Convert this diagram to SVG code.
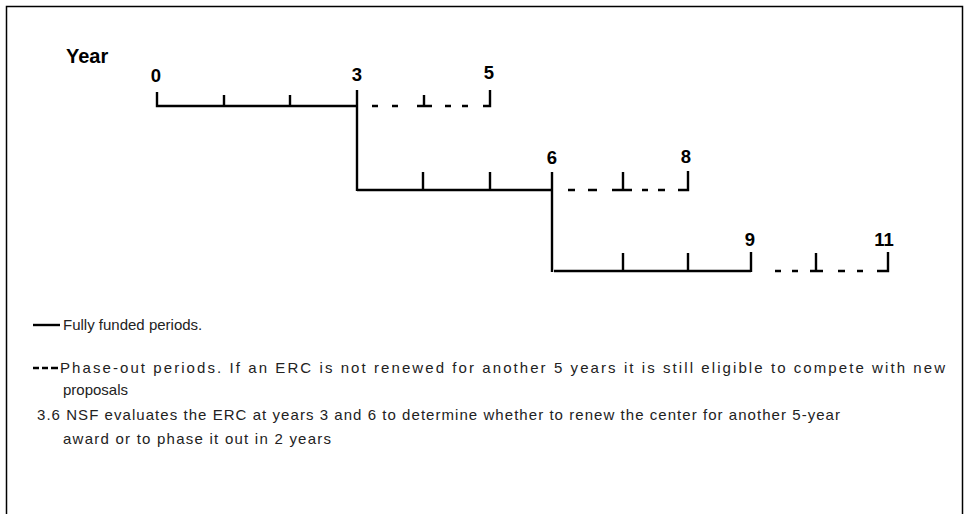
<svg xmlns="http://www.w3.org/2000/svg" width="969" height="514" viewBox="0 0 969 514">
<style>
.ln{stroke:#000;stroke-width:2.4;fill:none;stroke-linecap:butt;stroke-linejoin:miter}
.yr{font-family:"Liberation Sans",Arial,sans-serif;font-weight:bold;font-size:18.5px;fill:#000;text-anchor:middle}
.tx{font-family:"Liberation Sans",Arial,sans-serif;font-size:15px;fill:#222}
</style>
<rect x="0" y="0" width="969" height="514" fill="#fff"/>
<rect x="6.5" y="6.5" width="956" height="520" fill="none" stroke="#000" stroke-width="1.5"/>
<text x="66" y="63" font-family="'Liberation Sans',Arial,sans-serif" font-weight="bold" font-size="20">Year</text>
<g id="row1">
<path class="ln" d="M157,92 V106 H357 M224,95 V106 M290,95 V106"/>
<path class="ln" d="M372,106 H378 M392,106 H398 M417,106 H432 M424,95 V106 M445,106 H451 M462,106 H468 M483,106 H490 V90"/>
<text class="yr" x="156" y="82">0</text>
<text class="yr" x="357" y="81">3</text>
<text class="yr" x="489" y="79">5</text>
</g>
<g id="row2">
<path class="ln" d="M357,190 H552 M423,172 V190 M490,172 V190"/>
<path class="ln" d="M568,190 H575 M588,190 H597 M612,190 H632 M623,172 V190 M642,190 H648 M658,190 H665 M678,190 H688 V171"/>
<text class="yr" x="552" y="164">6</text>
<text class="yr" x="686" y="163">8</text>
</g>
<g id="row3">
<path class="ln" d="M554,271 H751 M623,253 V271 M688,253 V271 M751,252 V272"/>
<path class="ln" d="M775,271 H781 M792,271 H798 M810,271 H823 M816,253 V271 M838,271 H845 M857,271 H863 M877,271 H888 V252"/>
<text class="yr" x="750" y="246">9</text>
<text class="yr" x="884" y="246">11</text>
</g>
<g id="connectors">
<path class="ln" d="M357,90 V191"/>
<path class="ln" d="M552,172 V272"/>
</g>
<g id="legend">
<path class="ln" d="M33,325 H60"/>
<text class="tx" x="63" y="330">Fully funded periods.</text>
<path class="ln" d="M33,368 H39 M42,368 H48 M51,368 H58"/>
<text class="tx" x="60" y="373" textLength="885" lengthAdjust="spacing">Phase-out periods. If an ERC is not renewed for another 5 years it is still eligible to compete with new</text>
<text class="tx" x="63" y="395">proposals</text>
<text class="tx" x="37" y="420" textLength="803" lengthAdjust="spacing">3.6  NSF evaluates the ERC at years 3 and 6 to determine whether to renew the center for another 5-year</text>
<text class="tx" x="63" y="444" textLength="268" lengthAdjust="spacing">award or to phase it out in 2 years</text>
</g>
</svg>
